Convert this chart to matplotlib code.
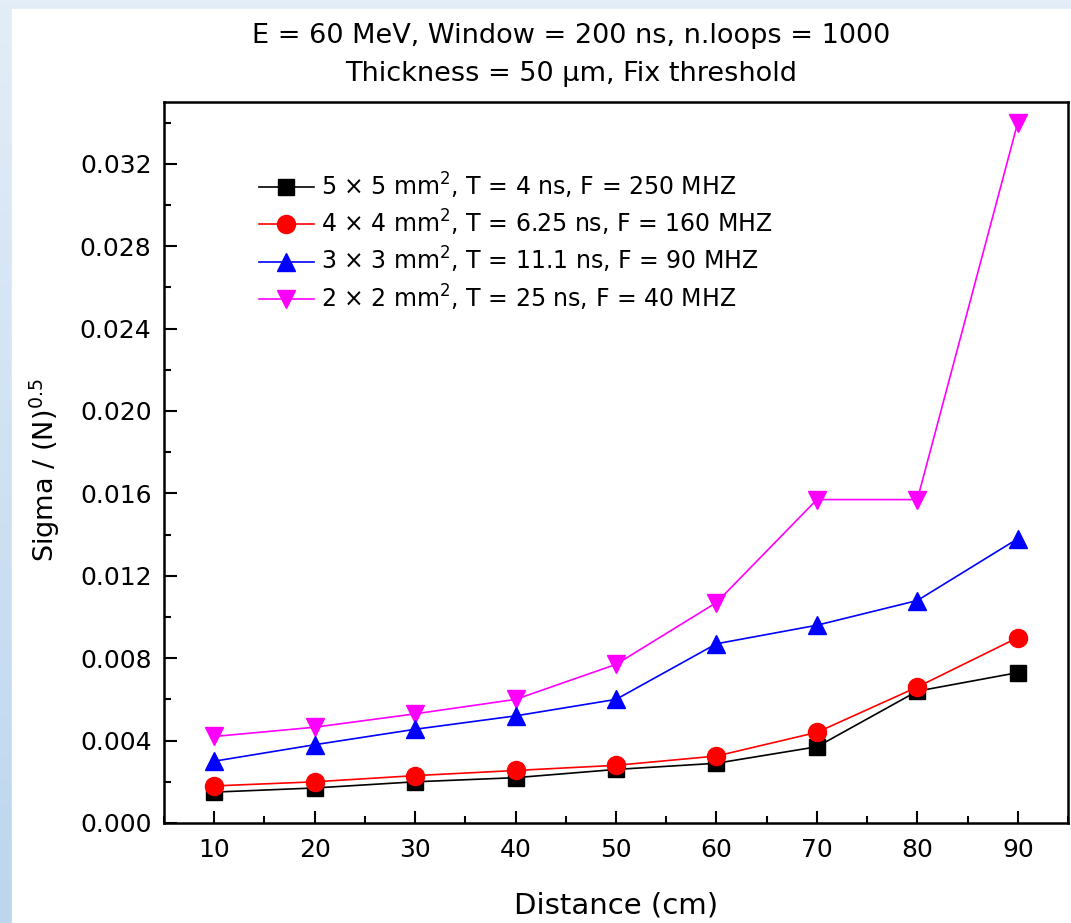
import matplotlib
matplotlib.use("Agg")
import matplotlib.pyplot as plt
import numpy as np
from matplotlib.patches import Rectangle
from matplotlib.ticker import MultipleLocator

plt.rcParams['font.family'] = ['DejaVu Sans']
plt.rcParams['mathtext.fontset'] = 'dejavusans'

distance = [10, 20, 30, 40, 50, 60, 70, 80, 90]
s5 = [0.0015, 0.0017, 0.0020, 0.0022, 0.0026, 0.0029, 0.0037, 0.0064, 0.0073]
s4 = [0.0018, 0.0020, 0.0023, 0.00255, 0.0028, 0.00325, 0.0044, 0.0066, 0.0090]
s3 = [0.0030, 0.0038, 0.00455, 0.0052, 0.0060, 0.0087, 0.0096, 0.0108, 0.0138]
s2 = [0.0042, 0.00465, 0.0053, 0.0060, 0.0077, 0.0107, 0.0157, 0.0157, 0.0340]
labels = [
    r"5 × 5 mm$^{2}$, T = 4 ns, F = 250 MHZ",
    r"4 × 4 mm$^{2}$, T = 6.25 ns, F = 160 MHZ",
    r"3 × 3 mm$^{2}$, T = 11.1 ns, F = 90 MHZ",
    r"2 × 2 mm$^{2}$, T = 25 ns, F = 40 MHZ",
]
xticks = [10, 20, 30, 40, 50, 60, 70, 80, 90]
yticks = [0.000, 0.004, 0.008, 0.012, 0.016, 0.020, 0.024, 0.028, 0.032]

fig = plt.figure(figsize=(10.71, 9.23), dpi=100)
fig.patch.set_facecolor('#d4e4f3')
bg = fig.add_axes([0, 0, 1, 1], zorder=-10)
grad = np.linspace(0, 1, 256).reshape(-1, 1)
bg.imshow(grad, extent=[0, 1, 0, 1], aspect='auto',
          cmap=matplotlib.colors.LinearSegmentedColormap.from_list('g', ['#bcd6ee', '#e3edf7']),
          origin='lower')
bg.add_patch(Rectangle((12/1071, 0), 1, 1 - 9/923, color='white', transform=bg.transAxes))
bg.set_xlim(0, 1); bg.set_ylim(0, 1)
bg.axis('off')

ax = fig.add_axes([164/1071, 1 - 823/923, (1068 - 164)/1071, (823 - 102)/923])
ax.set_facecolor('white')

lw = 1.2
ax.plot(distance, s5, color='black', marker='s', markersize=11, lw=lw, label=labels[0], zorder=3)
ax.plot(distance, s4, color='red', marker='o', markersize=13, lw=lw, label=labels[1], zorder=4)
ax.plot(distance, s3, color='blue', marker='^', markersize=13, lw=lw, label=labels[2], zorder=2)
ax.plot(distance, s2, color='magenta', marker='v', markersize=13, lw=lw, label=labels[3], zorder=1)

ax.set_xlim(5, 95)
ax.set_ylim(0, 0.035)
ax.set_xticks(xticks)
ax.set_yticks(yticks)
ax.set_yticklabels([f"{v:.3f}" for v in yticks])
ax.xaxis.set_minor_locator(MultipleLocator(5))
ax.yaxis.set_minor_locator(MultipleLocator(0.002))
ax.tick_params(which='major', direction='in', length=9, width=1.5, labelsize=18, top=False, right=False)
ax.tick_params(axis='x', which='major', pad=11)
ax.tick_params(axis='y', which='major', pad=9)
ax.tick_params(which='minor', direction='in', length=5, width=1.5, top=False, right=False)
for sp in ax.spines.values():
    sp.set_linewidth(1.8)

ax.set_xlabel("Distance (cm)", fontsize=21, labelpad=21)
ax.set_ylabel(r"Sigma / (N)$^{0.5}$", fontsize=19.5)
ax.yaxis.set_label_coords(-0.113, 0.49)

fig.text(571/1071, 1 - 36/923, "E = 60 MeV, Window = 200 ns, n.loops = 1000", ha='center', va='center', fontsize=19.5)
fig.text(571/1071, 1 - 74/923, "Thickness = 50 μm, Fix threshold", ha='center', va='center', fontsize=19.5)

leg = ax.legend(loc='upper left', bbox_to_anchor=(0.095, 0.918), frameon=False, fontsize=17,
                handlelength=2.3, handletextpad=0.3, labelspacing=0.3, borderaxespad=0)

fig.savefig("out.png", dpi=100, facecolor=fig.get_facecolor())
